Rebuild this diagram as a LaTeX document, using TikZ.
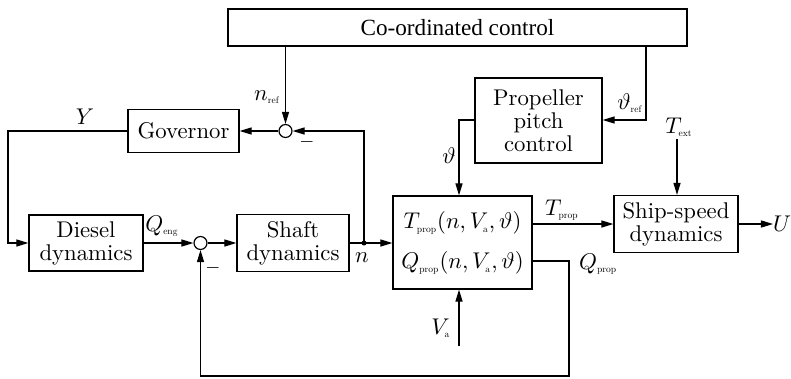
\documentclass[tikz,border=0pt]{standalone}
\usepackage{fontspec}
\usepackage{graphicx}
\newfontfamily\timesfont{Liberation Serif}
\usetikzlibrary{arrows.meta}
% small upright subscripts
\newcommand{\lo}[1]{\scalebox{0.42}{\fontsize{10}{10}\selectfont #1}}
\begin{document}
\begin{tikzpicture}[x=0.44pt,y=-0.44pt,
  every node/.style={font=\fontsize{10}{10.15}\selectfont},
  bx/.style 2 args={minimum width=0.44*#1pt,minimum height=0.44*#2pt},
  blk/.style={draw,line width=0.53pt,inner sep=0pt,align=center},
  sumc/.style={draw,circle,line width=0.53pt,minimum size=5.7pt,inner sep=0pt},
  wire/.style={line width=0.53pt},
  arr/.style={wire,-{Triangle[length=5.3pt,width=3.1pt]}},
  minus/.style={font=\fontsize{8.5}{8.5}\selectfont,inner sep=0pt},
]
\useasboundingbox (0,0) rectangle (791,378);

% blocks
\node[blk,bx={459}{37},font=\timesfont\fontsize{10.2}{11}\selectfont] (coord) at (457.5,27.5) {Co-ordinated control};
\node[blk,bx={111}{43}] (gov) at (183.5,131) {Governor};
\node[blk,bx={127}{85}] (pitch) at (538.5,120.5) {Propeller\\pitch\\control};
\node[blk,bx={114}{56}] (diesel) at (86,243) {Diesel\\dynamics};
\node[blk,bx={112}{57}] (shaft) at (293,243) {Shaft\\dynamics};
\node[blk,bx={139}{93}] (prop) at (462.5,242.5) {};
\node (tp) at (462.5,223) {$T_{\lo{prop}}(n,V_{\lo{a}},\vartheta)$};
\node (qp) at (462.5,263) {$Q_{\lo{prop}}(n,V_{\lo{a}},\vartheta)$};
\node[blk,bx={124}{57}] (ship) at (676,224) {Ship-speed\\dynamics};

% summing junctions and branch point
\node[sumc] (s1) at (285.5,131) {};
\node[sumc] (s2) at (200.5,243) {};
\node[circle,fill,inner sep=0pt,minimum size=2.2pt] (dot) at (364,243) {};

% corner points
\coordinate (tr) at (646,120);
\coordinate (th) at (459,120);
\coordinate (yl) at (8,131);
\coordinate (yb) at (8,243);
\coordinate (qr) at (569,261);
\coordinate (qb) at (569,376);
\coordinate (tx) at (677,139);
\coordinate (va) at (459,346);
\coordinate (uo) at (773,224);
\coordinate (nt) at (364,131);

% connectors
\draw[arr] (coord.south -| s1) -- (s1);
\draw[arr] (s1) -- (gov);
\draw[arr] (gov.west) -- (yl) -- (yb) -- (diesel.west);
\draw[arr] (diesel) -- (s2);
\draw[arr] (s2) -- (shaft);
\draw[arr] (shaft.east) -- (prop.west |- shaft);
\draw[arr] (dot.center) -- (nt) -- (s1.east);
\draw[arr] (coord.south -| tr) -- (tr) -- (pitch.east |- tr);
\draw[arr] (pitch.west |- th) -- (th) -- (prop.north -| th);
\draw[arr] (prop.east |- ship) -- (ship.west);
\draw[arr] (prop.east |- qr) -- (qr) -- (qb) -- (qb -| s2) -- (s2.south);
\draw[arr] (tx) -- (ship.north -| tx);
\draw[arr] (va) -- (prop.south -| va);
\draw[arr] (ship.east) -- (uo);

% signal labels
\node (lY) at (85,117) {$Y$};
\node (lQe) at (162,226) {$Q_{\lo{eng}}$};
\node (lnr) at (267,97) {$n_{\lo{ref}}$};
\node (lth) at (449,156) {$\vartheta$};
\node (lthr) at (630,103) {$\vartheta_{\lo{ref}}$};
\node (lTp) at (562,210) {$T_{\lo{prop}}$};
\node[anchor=west] (lQp) at (571,264) {$Q_{\lo{prop}}$};
\node (lTe) at (679,127) {$T_{\lo{ext}}$};
\node (lVa) at (441,328) {$V_{\lo{a}}$};
\node (lU) at (782,224) {$U$};
\node (ln) at (362,258) {$n$};
\node[minus] (m1) at (307,142) {$-$};
\node[minus] (m2) at (213,268) {$-$};
\end{tikzpicture}
\end{document}
